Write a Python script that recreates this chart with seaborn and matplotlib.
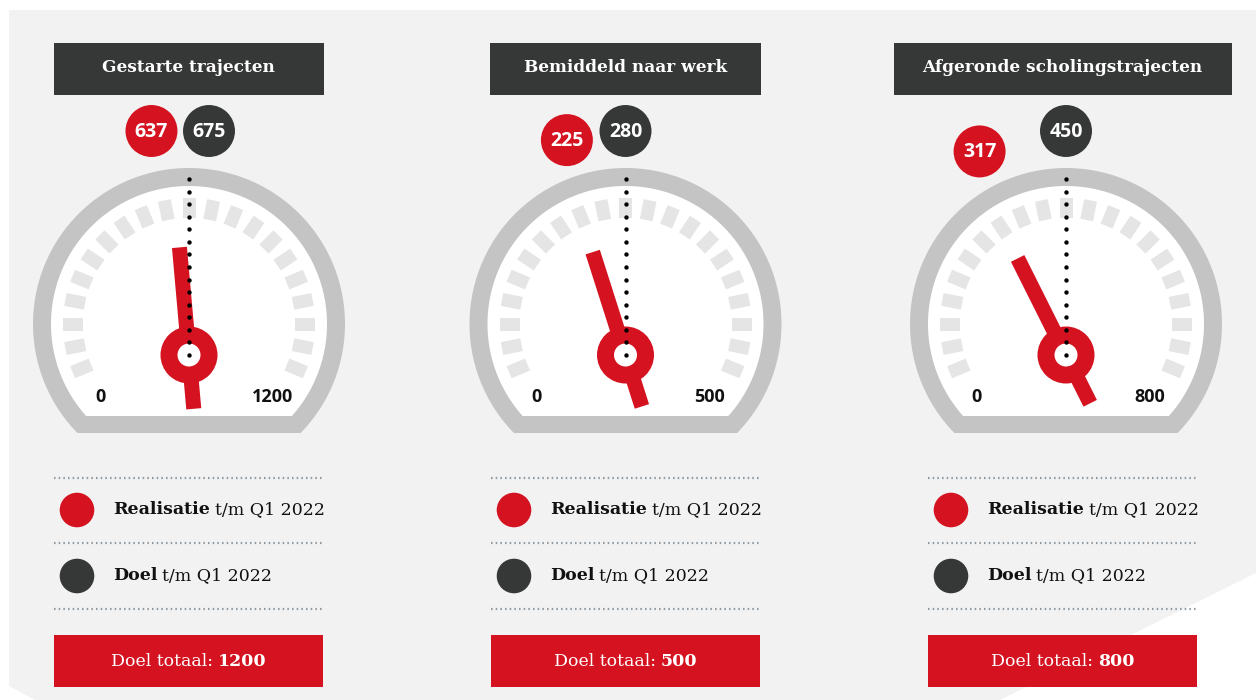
import numpy as np
import matplotlib.pyplot as plt
import seaborn as sns
import pandas as pd
from matplotlib.patches import Rectangle, Circle, Polygon
from matplotlib.offsetbox import TextArea, HPacker, AnnotationBbox

# data
titles = ["Gestarte trajecten", "Bemiddeld naar werk", "Afgeronde scholingstrajecten"]
realisatie = [637, 225, 317]
doel = [675, 280, 450]
doel_totaal = [1200, 500, 800]
legend_bold = ["Realisatie", "Doel"]
legend_rest = "t/m Q1 2022"

# colours
RED = "#d51220"
DARK = "#363737"
RING = "#c4c4c4"
TICK = "#e6e5e6"
BG = "#f2f2f2"
DOTC = "#8f9aa3"

# layout (pixels)
col_x = [188.5, 625.5, 1062.5]
gauge_x = [189, 625.5, 1066]
title_w = [270, 271, 338]
ARC_Y, HUB_Y = 324, 355
SERIF = ["DejaVu Serif"]
SANS = ["Open Sans", "DejaVu Sans"]

sns.set_theme(style="white")
plt.rcParams["font.family"] = SERIF

fig = plt.figure(figsize=(12.56, 7), dpi=100)
ax = fig.add_axes([0, 0, 1, 1])
ax.set_xlim(0, 1256)
ax.set_ylim(700, 0)
ax.axis("off")

# page background with cut corners
ax.add_patch(Polygon([(9, 10), (1256, 10), (1256, 573), (1000, 700), (35, 700), (9, 686)],
                     closed=True, color=BG, lw=0, zorder=0))


def clipped_disc(cx, cy, r, y_cut, n=240):
    t0 = -np.arcsin((y_cut - cy) / r)
    t = np.linspace(t0, np.pi - t0, n)
    return np.column_stack([cx + r * np.cos(t), cy - r * np.sin(t)])


def rich(x, y, parts, color, size, align=0.5):
    boxes = [TextArea(s, textprops=dict(color=color, fontsize=size, fontweight=w, family=SERIF))
             for s, w in parts]
    pack = HPacker(children=boxes, align="baseline", pad=0, sep=3.5)
    ab = AnnotationBbox(pack, (x, y), xycoords="data", box_alignment=(align, 0.5),
                        frameon=False, pad=0, zorder=10)
    ax.add_artist(ab)


for i in range(3):
    cx, gx = col_x[i], gauge_x[i]

    # title box
    w = title_w[i]
    ax.add_patch(Rectangle((cx - w / 2, 43), w, 52, color=DARK, lw=0, zorder=2))
    ax.text(cx, 68, titles[i], color="white", fontsize=12.2, fontweight="bold",
            ha="center", va="center", zorder=3)

    # gauge body
    ax.add_patch(Polygon(clipped_disc(gx, ARC_Y, 156, 433), color=RING, lw=0, zorder=1))
    ax.add_patch(Polygon(clipped_disc(gx, ARC_Y, 138, 416), color="white", lw=0, zorder=2))

    # scale ticks
    for k in range(-10, 11):
        t = np.deg2rad(90 - k * 11.25)
        u = np.array([np.cos(t), -np.sin(t)])
        v = np.array([np.sin(t), np.cos(t)])
        c = np.array([gx, ARC_Y])
        pts = [c + 106 * u - 6.5 * v, c + 126 * u - 6.5 * v,
               c + 126 * u + 6.5 * v, c + 106 * u + 6.5 * v]
        ax.add_patch(Polygon(pts, color=TICK, lw=0, zorder=3))

    # needle: target fixed at the top, realisation rotated by shortfall
    t_n = np.deg2rad(90 + 90 * (1 - realisatie[i] / doel[i]))
    u = np.array([np.cos(t_n), -np.sin(t_n)])
    v = np.array([np.sin(t_n), np.cos(t_n)])
    hub = np.array([gx, HUB_Y])
    ax.add_patch(Polygon([hub - 54 * u - 7.5 * v, hub + 108 * u - 7.5 * v,
                          hub + 108 * u + 7.5 * v, hub - 54 * u + 7.5 * v],
                         color=RED, lw=0, zorder=4))
    ax.add_patch(Circle(hub, 28.5, color=RED, lw=0, zorder=5))
    ax.add_patch(Circle(hub, 11.5, color="white", lw=0, zorder=6))

    # target dotted line
    dist = np.linspace(0, 176, 15)
    dots = pd.DataFrame({"x": np.full(15, gx), "y": HUB_Y - dist})
    sns.scatterplot(data=dots, x="x", y="y", ax=ax, s=10, color="black",
                    linewidth=0, zorder=7, legend=False)

    # scale labels
    ax.text(gx - 89, 397, "0", family=SANS, fontweight="bold", fontsize=13,
            color="#111111", ha="center", va="center", zorder=8)
    ax.text(gx + 84, 397, f"{doel_totaal[i]}", family=SANS, fontweight="bold", fontsize=13,
            color="#111111", ha="center", va="center", zorder=8)

    # value bubbles
    R = 193
    red_xy = np.array([gx - R * np.sin(t_n - np.pi / 2), ARC_Y - R * np.cos(t_n - np.pi / 2)])
    dark_xy = np.array([gx, ARC_Y - R])
    if np.hypot(*(red_xy - dark_xy)) < 58:
        mid = (red_xy[0] + dark_xy[0]) / 2
        red_xy[0], dark_xy[0] = mid - 29, mid + 29
        red_xy[1] = dark_xy[1]
    bub = pd.DataFrame({"x": [red_xy[0], dark_xy[0]], "y": [red_xy[1], dark_xy[1]],
                        "kind": ["real", "doel"]})
    sns.scatterplot(data=bub, x="x", y="y", hue="kind", palette={"real": RED, "doel": DARK},
                    s=1400, linewidth=0, ax=ax, legend=False, zorder=8)
    for xy, val in [(red_xy, realisatie[i]), (dark_xy, doel[i])]:
        ax.text(xy[0], xy[1] + 1, f"{val}", family=SANS, fontweight="bold", fontsize=14,
                color="white", ha="center", va="center", zorder=9)

    # legend block
    left = cx - 134.5
    for yy in [478, 543, 609]:
        ax.plot([left, left + 269], [yy, yy], color=DOTC, lw=1.6,
                linestyle=(0, (0.7, 1.4)), zorder=2)
    leg = pd.DataFrame({"x": [left + 23, left + 23], "y": [510, 576], "kind": ["real", "doel"]})
    sns.scatterplot(data=leg, x="x", y="y", hue="kind", palette={"real": RED, "doel": DARK},
                    s=620, linewidth=0, ax=ax, legend=False, zorder=8)
    for yy, b in zip([510, 576], legend_bold):
        rich(left + 59, yy, [(b, "bold"), (legend_rest, "normal")], "#111111", 12.5, align=0)

    # total target box
    ax.add_patch(Rectangle((left, 635), 269, 52, color=RED, lw=0, zorder=2))
    rich(cx, 661, [("Doel totaal:", "normal"), (f"{doel_totaal[i]}", "bold")], "white", 12.5)

ax.set_xlim(0, 1256)
ax.set_ylim(700, 0)
fig.savefig("out.png", dpi=100, facecolor="white")
